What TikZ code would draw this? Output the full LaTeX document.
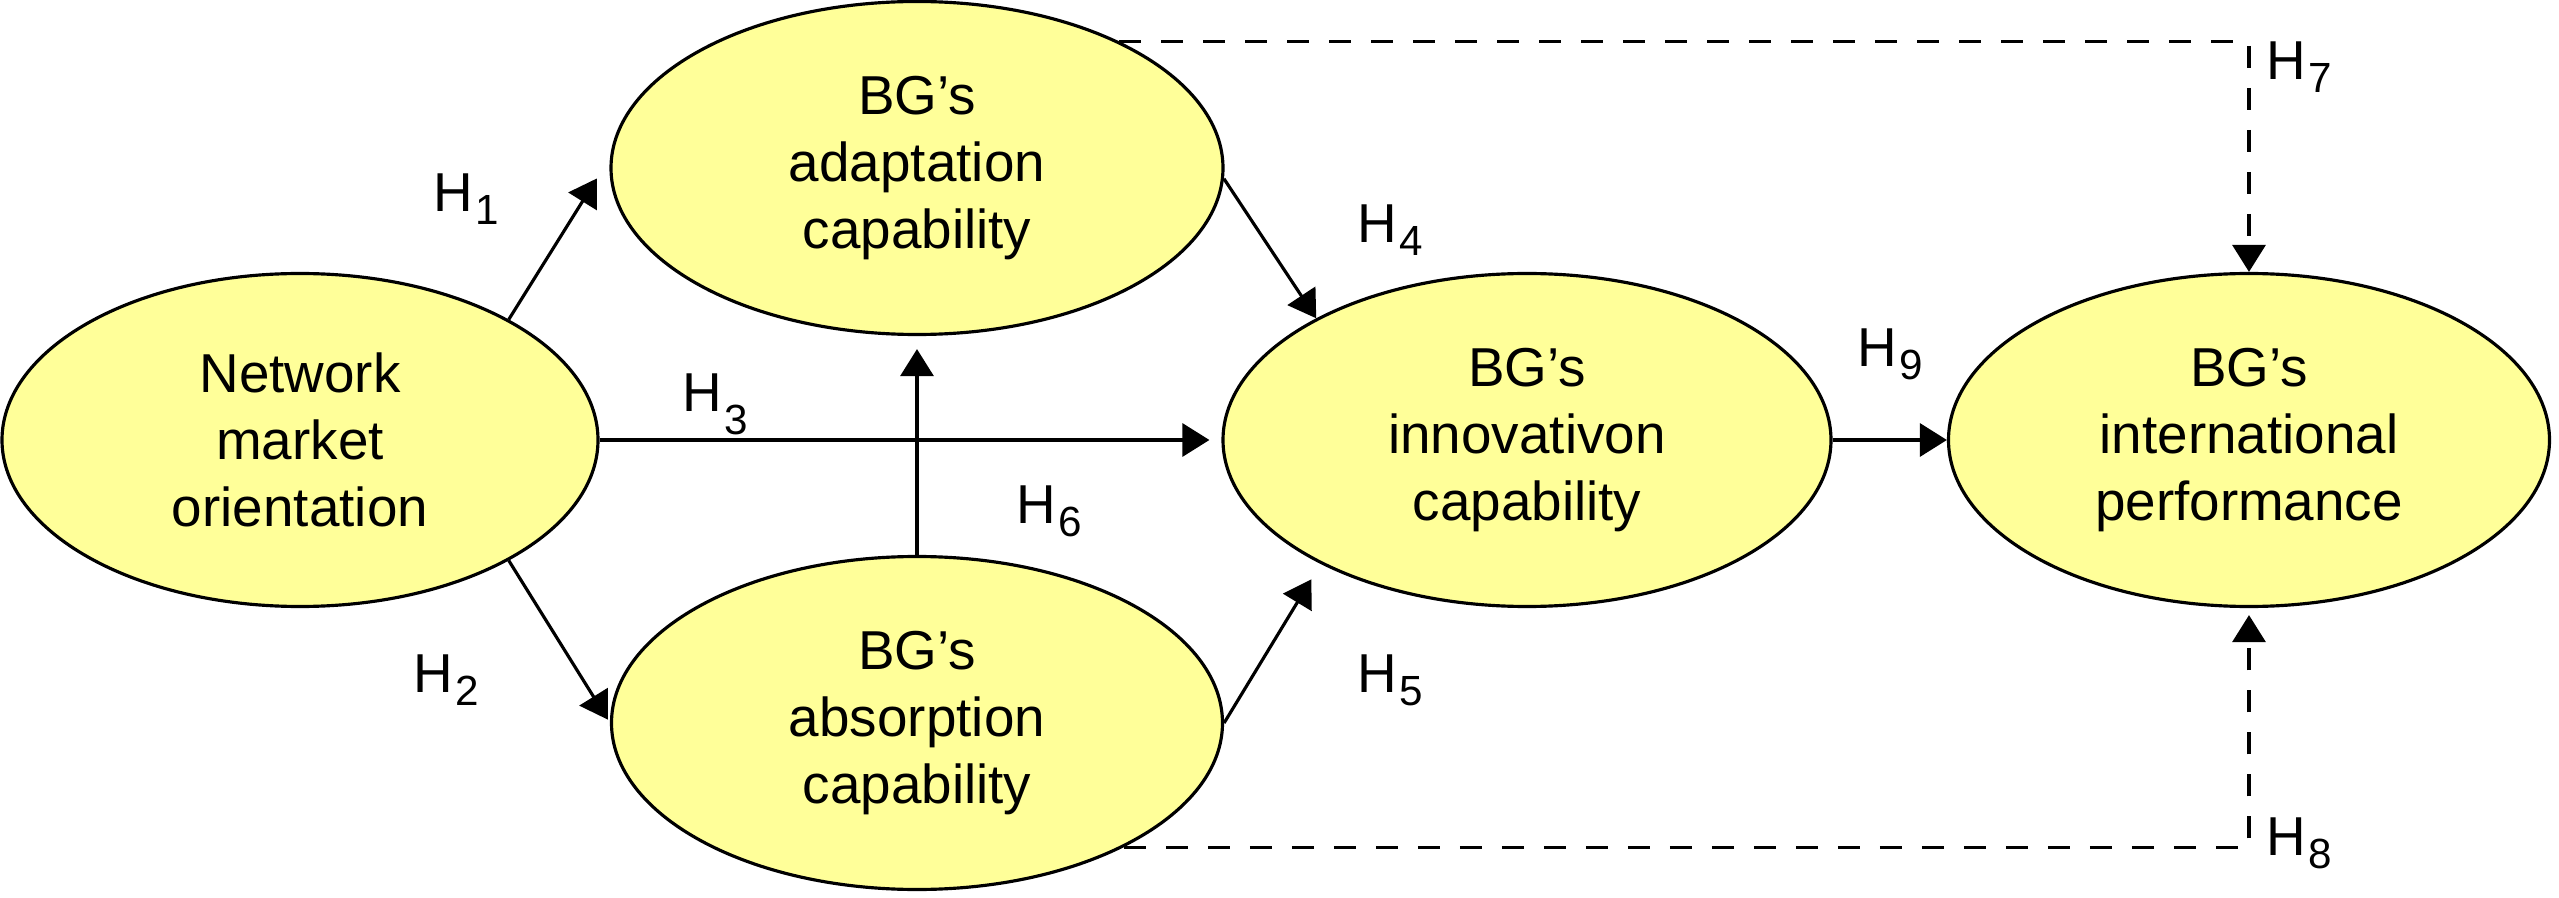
\documentclass[tikz,border=0pt]{standalone}
\usepackage{fontspec}
\setmainfont{Liberation Sans}
\usetikzlibrary{shapes.geometric,arrows.meta,calc}
\definecolor{fillyellow}{HTML}{FFFF99}
\newcommand{\hlab}[2][-0.13cm]{H\kern0.02cm\raisebox{#1}{\fontsize{12pt}{14pt}\selectfont #2}}
\begin{document}
\begin{tikzpicture}[
  construct/.style={ellipse, draw=black, line width=0.9pt, fill=fillyellow,
    minimum height=3.33cm, align=center, inner sep=0pt,
    font=\fontsize{15.6pt}{19pt}\selectfont},
  hypo/.style={anchor=base west, inner sep=0pt, font=\fontsize{15.6pt}{19pt}\selectfont},
  link/.style={line width=0.9pt, -{Triangle[length=0.27cm,width=0.33cm]}},
  dlink/.style={link, dash pattern=on 0.22cm off 0.2cm}
]
\useasboundingbox (0,0) rectangle (25.59,8.97);
% constructs
\node[construct, minimum width=5.96cm] (nmo) at (3.00,4.57) {Network\\market\\orientation};
\node[construct, minimum width=6.12cm] (ada) at (9.17,7.29) {BG’s\\adaptation\\capability};
\node[construct, minimum width=6.11cm] (abs) at (9.17,1.74) {BG’s\\absorption\\capability};
\node[construct, minimum width=6.08cm] (inn) at (15.27,4.57) {BG’s\\innovativon\\capability};
\node[construct, minimum width=6.01cm] (intl) at (22.49,4.57) {BG’s\\international\\performance};
% solid paths
\draw[link, shorten >=0.25cm] (nmo.30) -- (ada.178);
\draw[link, shorten >=0.04cm] (nmo.-30) -- (abs.west);
\draw[link, shorten >=0.12cm] (nmo.east) -- (inn.west);
\draw[link, shorten >=0.13cm] (abs.north) -- (ada.south);
\draw[link] (ada.-2) -- (inn.150);
\draw[link, shorten >=0.18cm] (abs.east) -- (inn.211);
\draw[link] (inn.east) -- (intl.west);
% dashed paths
\draw[dlink] (ada.32) -| (intl.north);
\draw[dlink, shorten >=0.07cm] (abs.-31) -| (intl.south);
% hypothesis labels
\node[hypo] (h1) at (4.33,6.85) {\hlab{1}};
\node[hypo] (h2) at (4.13,2.05) {\hlab{2}};
\node[hypo] (h3) at (6.82,4.85) {\hlab[-0.23cm]{3}};
\node[hypo] (h4) at (13.57,6.54) {\hlab{4}};
\node[hypo] (h5) at (13.57,2.05) {\hlab{5}};
\node[hypo] (h6) at (10.16,3.74) {\hlab{6}};
\node[hypo] (h7) at (22.66,8.17) {\hlab{7}};
\node[hypo] (h8) at (22.66,0.42) {\hlab{8}};
\node[hypo] (h9) at (18.57,5.30) {\hlab{9}};
\end{tikzpicture}
\end{document}
